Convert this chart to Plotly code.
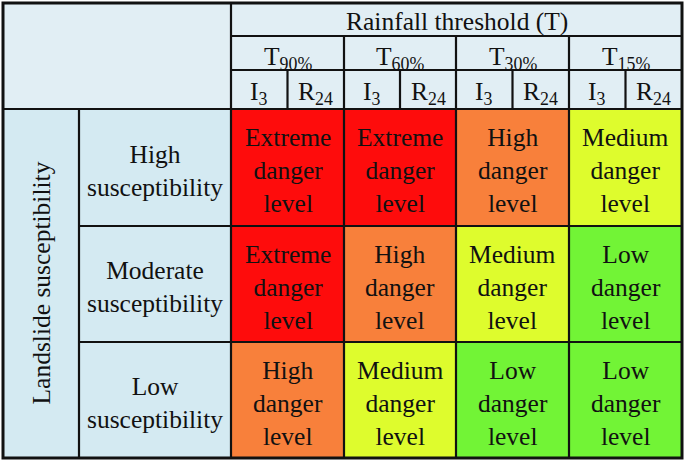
import plotly.graph_objects as go

# ---------------- data ----------------
levels = ["Low", "Medium", "High", "Extreme"]
level_colors = ["#72F436", "#DEFC2D", "#F8803B", "#FE0C0C"]
susceptibility = ["High", "Moderate", "Low"]
thresholds = ["90%", "60%", "30%", "15%"]
indicators = ["I<sub>3</sub>", "R<sub>24</sub>"]
danger = [
    ["Extreme", "Extreme", "High", "Medium"],
    ["Extreme", "High", "Medium", "Low"],
    ["High", "Medium", "Low", "Low"],
]
header_title = "Rainfall threshold (T)"
side_title = "Landslide susceptibility"

# ---------------- layout geometry (pixel-like axis units) ----------------
W, H = 685, 460
x_left, x_lab, x_body = 3, 79, 231
col_edges = [231, 344, 456, 569, 682]
y_top = 3
head_edges = [3, 36, 70, 109]
row_edges = [109, 226, 342, 458]

HEAD_BG = "#E1EEF4"
LAB_BG = "#D4EAF2"
LINE = "#111111"
FONT = "Liberation Serif, Times New Roman, serif"
FS = 25.5

fig = go.Figure()

z = [[levels.index(d) for d in row] for row in danger]
n = len(level_colors)
cs = []
for i, c in enumerate(level_colors):
    cs.append([i / n, c])
    cs.append([(i + 1) / n, c])
fig.add_trace(go.Heatmap(
    z=z, x=col_edges, y=row_edges, zmin=-0.5, zmax=n - 0.5,
    colorscale=cs, showscale=False, hoverinfo="skip",
))

shapes = []
# backgrounds
shapes.append(dict(type="rect", x0=x_left, x1=col_edges[-1], y0=y_top, y1=head_edges[-1],
                   fillcolor=HEAD_BG, line_width=0, layer="below"))
shapes.append(dict(type="rect", x0=x_left, x1=x_body, y0=row_edges[0], y1=row_edges[-1],
                   fillcolor=LAB_BG, line_width=0, layer="below"))

def hline(y, xa, xb, w=2.2):
    shapes.append(dict(type="line", x0=xa, x1=xb, y0=y, y1=y, line=dict(color=LINE, width=w)))

def vline(x, ya, yb, w=2.2):
    shapes.append(dict(type="line", x0=x, x1=x, y0=ya, y1=yb, line=dict(color=LINE, width=w)))

hline(head_edges[1], x_body, col_edges[-1])
hline(head_edges[2], x_body, col_edges[-1])
hline(head_edges[3], x_left, col_edges[-1])
for y in row_edges[1:-1]:
    hline(y, x_lab, col_edges[-1])
vline(x_lab, row_edges[0], row_edges[-1])
vline(x_body, y_top, row_edges[-1])
for x in col_edges[1:-1]:
    vline(x, head_edges[1], row_edges[-1])
for a, b in zip(col_edges[:-1], col_edges[1:]):
    vline((a + b) / 2, head_edges[2], head_edges[3])
shapes.append(dict(type="rect", x0=x_left, x1=col_edges[-1], y0=y_top, y1=row_edges[-1],
                   line=dict(color=LINE, width=3)))

ann = []
def txt(x, y, s, size=FS, angle=0):
    ann.append(dict(x=x, y=y, text=s, showarrow=False, xanchor="center", yanchor="middle",
                    textangle=angle, font=dict(family=FONT, size=size, color="#111111")))

txt((col_edges[0] + col_edges[-1]) / 2, 21.5, header_title)
for i, t in enumerate(thresholds):
    cx = (col_edges[i] + col_edges[i + 1]) / 2
    txt(cx, 58, "T<sub>" + t + "</sub>")
    for j, ind in enumerate(indicators):
        sx = col_edges[i] + (col_edges[i + 1] - col_edges[i]) * (0.25 + 0.5 * j)
        txt(sx, 93, ind)
for r, s in enumerate(susceptibility):
    cy = (row_edges[r] + row_edges[r + 1]) / 2
    txt((x_lab + x_body) / 2, cy + 3, s + "<br>susceptibility")
    for c, d in enumerate(danger[r]):
        cx = (col_edges[c] + col_edges[c + 1]) / 2
        txt(cx, cy + 3, d + "<br>danger<br>level")
txt((x_left + x_lab) / 2, (row_edges[0] + row_edges[-1]) / 2, side_title, angle=-90)

fig.update_layout(
    width=W, height=H, margin=dict(l=0, r=0, t=0, b=0),
    paper_bgcolor="white", plot_bgcolor="white",
    xaxis=dict(range=[0, W], visible=False, fixedrange=True),
    yaxis=dict(range=[H, 0], visible=False, fixedrange=True),
    shapes=shapes, annotations=ann, showlegend=False,
)
fig.write_html("out.html", config={"displayModeBar": False},
               post_script="document.body.style.margin='0';document.body.style.overflow='hidden';")
